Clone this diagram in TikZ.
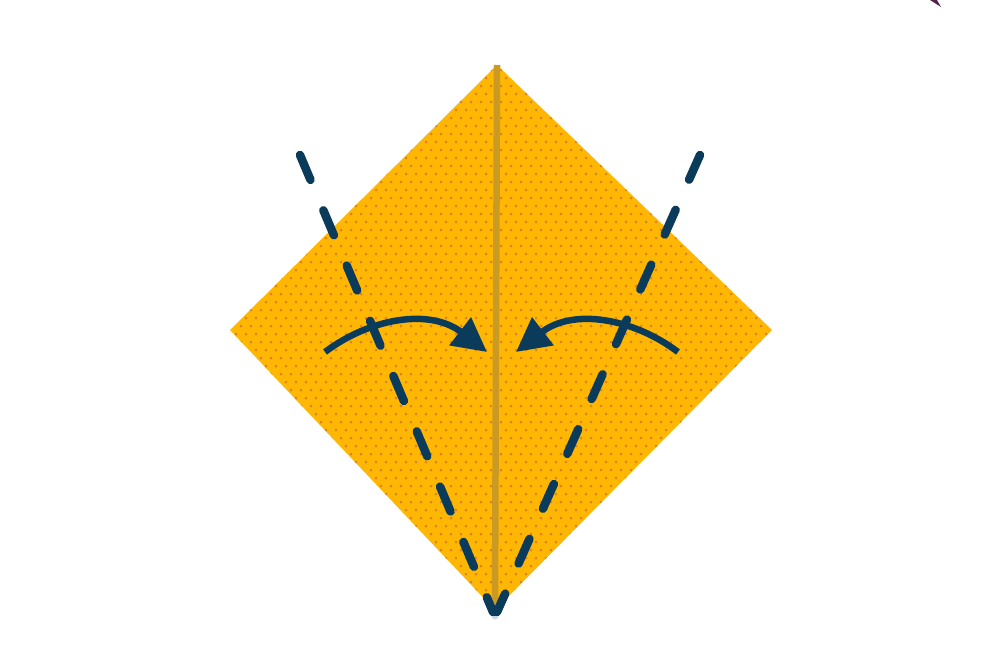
\documentclass[tikz,border=0pt]{standalone}
\usetikzlibrary{arrows.meta}
\definecolor{paper}{HTML}{FFB703}
\definecolor{dotc}{HTML}{D8841E}
\definecolor{crease}{HTML}{CB9A22}
\definecolor{navy}{HTML}{0B3B5B}
\definecolor{tipc}{HTML}{C8D8E8}
\tikzset{
  foldline/.style={navy, line width=8.5pt, line cap=round, dash pattern=on 27pt off 33pt},
  foldarrow/.style={navy, line width=6.5pt, -{Triangle[length=34pt,width=34pt]}},
}
\begin{document}
\begin{tikzpicture}[x=1pt,y=-1pt]
\useasboundingbox (0,0) rectangle (1000,667);
\coordinate (T) at (497,65);
\coordinate (L) at (230,330);
\coordinate (R) at (772,330);
\coordinate (B) at (495,610);
\fill[tipc] (495,616) circle (3.5pt);
\fill[paper] (T) -- (R) -- (B) -- (L) -- cycle;
\begin{scope}
\clip (T) -- (R) -- (B) -- (L) -- cycle;
\foreach \j in {0,...,69}{
  \pgfmathsetmacro\off{mod(\j,2)*5}
  \foreach \i in {0,...,55}{
    \fill[dotc] ({226+\i*10+\off},{62+\j*8}) circle (1.5pt);
  }
}
\end{scope}
\draw[crease, line width=6.5pt] (T) -- (B);
\coordinate (LA) at (300,155);
\coordinate (LB) at (493,612);
\coordinate (RA) at (700,155);
\coordinate (RB) at (497,612);
\draw[foldline] (LA) -- (LB);
\draw[foldline] (RA) -- (RB);
\draw[foldarrow] (325,352) .. controls (370,318) and (430,308) .. (487,352);
\draw[foldarrow] (678,352) .. controls (633,318) and (573,308) .. (516,352);
\fill[navy!60!purple] (930,0) -- (937,0) -- (941,7) -- cycle;
\end{tikzpicture}
\end{document}
